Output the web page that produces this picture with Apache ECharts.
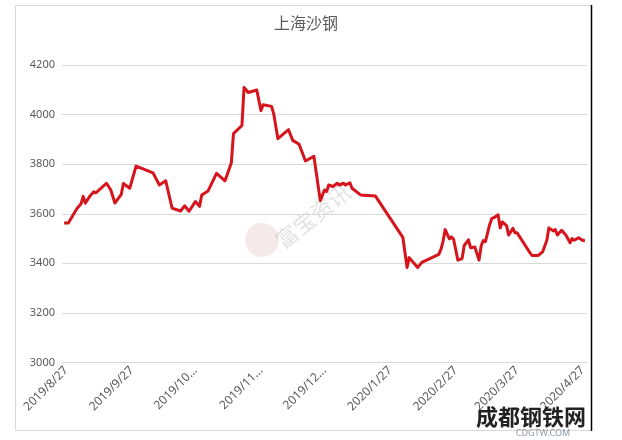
<!DOCTYPE html>
<html>
<head>
<meta charset="utf-8">
<script src="https://cdn.jsdelivr.net/npm/echarts@6/dist/echarts.min.js"></script>
<style>html,body{margin:0;padding:0;background:#fff;}#c{width:622px;height:440px;}</style>
</head>
<body>
<div id="c"></div>
<script>
const titleText = '上海沙钢';
const dates = [
'2019-08-26','2019-08-28','2019-09-01','2019-09-03','2019-09-04','2019-09-05','2019-09-07','2019-09-09','2019-09-10','2019-09-15',
'2019-09-17','2019-09-19','2019-09-22','2019-09-23','2019-09-26','2019-09-29','2019-10-07','2019-10-10','2019-10-13','2019-10-16',
'2019-10-20','2019-10-22','2019-10-24','2019-10-27','2019-10-29','2019-10-30','2019-11-02','2019-11-06','2019-11-10','2019-11-13',
'2019-11-14','2019-11-18','2019-11-19','2019-11-21','2019-11-25','2019-11-27','2019-11-28','2019-12-02','2019-12-03','2019-12-05',
'2019-12-10','2019-12-12','2019-12-15','2019-12-18','2019-12-22','2019-12-25','2019-12-27','2019-12-28','2019-12-29','2019-12-31',
'2020-01-02','2020-01-03','2020-01-05','2020-01-06','2020-01-08','2020-01-09','2020-01-13','2020-01-20','2020-02-02','2020-02-04',
'2020-02-05','2020-02-09','2020-02-11','2020-02-19','2020-02-20','2020-02-21','2020-02-22','2020-02-24','2020-02-25','2020-02-26',
'2020-02-28','2020-03-01','2020-03-02','2020-03-04','2020-03-05','2020-03-07','2020-03-09','2020-03-10','2020-03-11','2020-03-12',
'2020-03-14','2020-03-15','2020-03-16','2020-03-18','2020-03-19','2020-03-20','2020-03-22','2020-03-23','2020-03-25','2020-03-26',
'2020-03-27','2020-03-30','2020-04-02','2020-04-03','2020-04-06','2020-04-08','2020-04-10','2020-04-11','2020-04-13','2020-04-14',
'2020-04-15','2020-04-17','2020-04-19','2020-04-21','2020-04-22','2020-04-23','2020-04-25','2020-04-27','2020-04-28'
];
const prices = [
3563,3563,3620,3640,3670,3643,3669,3689,3684,3723,
3697,3643,3678,3722,3703,3792,3765,3716,3733,3623,
3611,3632,3610,3649,3630,3676,3692,3763,3733,3806,
3923,3956,4109,4089,4099,4016,4040,4033,4003,3903,
3939,3896,3880,3813,3832,3653,3696,3690,3716,3710,
3723,3716,3723,3716,3725,3703,3676,3672,3505,3383,
3423,3383,3404,3436,3456,3489,3536,3499,3507,3496,
3413,3419,3472,3495,3463,3466,3413,3470,3492,3487,
3556,3580,3584,3596,3543,3567,3552,3514,3541,3523,
3523,3483,3443,3432,3432,3446,3492,3543,3531,3536,
3514,3533,3514,3483,3500,3493,3503,3492,3493
];
const tickDates = ['2019-08-27','2019-09-27','2019-10-27','2019-11-27','2019-12-27','2020-01-27','2020-02-27','2020-03-27','2020-04-27'];
const tickLabels = ['2019/8/27','2019/9/27','2019/10...','2019/11...','2019/12...','2020/1/27','2020/2/27','2020/3/27','2020/4/27'];
const yTicks = [3000,3200,3400,3600,3800,4000,4200];

function ts(s){const p=s.split('-').map(Number);return Date.UTC(p[0],p[1]-1,p[2]);}
const tickTimes = tickDates.map(ts);
const seriesData = dates.map((d,i)=>[ts(d),prices[i]]);

const chart = echarts.init(document.getElementById('c'), null, {renderer:'canvas'});
chart.setOption({
  animation:false,
  backgroundColor:'#fff',
  title:{text:titleText,left:301,top:10,textAlign:'center',
    textStyle:{fontFamily:'Noto Sans CJK SC',fontSize:16,fontWeight:'normal',color:'#595959'}},
  grid:{left:62,right:35,top:65,bottom:77.5,containLabel:false},
  xAxis:{type:'value',min:ts('2019-08-25'),max:ts('2020-04-29'),scale:true,
    splitLine:{show:false},
    axisLine:{show:true,lineStyle:{color:'#d9d9d9'}},
    axisTick:{show:false,customValues:tickTimes},
    axisLabel:{customValues:tickTimes,rotate:45,margin:6,fontSize:12,color:'#595959',fontFamily:'Noto Sans',
      hideOverlap:false,showMinLabel:true,showMaxLabel:true,
      formatter:function(v){const i=tickTimes.indexOf(v);return i>=0?tickLabels[i]:'';}}
  },
  yAxis:{type:'value',min:yTicks[0],max:yTicks[yTicks.length-1],interval:200,
    axisLine:{show:false},axisTick:{show:false},
    splitLine:{lineStyle:{color:'#d9d9d9',width:1}},
    axisLabel:{fontSize:11,color:'#595959',margin:7,fontFamily:'Noto Sans',
      formatter:function(v){return String(v);}}},
  series:[{type:'line',data:seriesData,showSymbol:false,symbol:'none',
    lineStyle:{color:'#d6141c',width:3,join:'round'},z:3}],
  graphic:[
    {type:'rect',shape:{x:15.5,y:5.5,width:576,height:425},style:{fill:'none',stroke:'#d9d9d9',lineWidth:1},z:-1,silent:true},
    {type:'line',shape:{x1:591.5,y1:5,x2:591.5,y2:431},style:{stroke:'#000',lineWidth:1.5},silent:true},
    {type:'circle',shape:{cx:262,cy:240,r:17},style:{fill:'rgba(205,160,160,0.22)'},silent:true,z:0},
    {type:'text',x:313,y:216,rotation:Math.PI*38/180,style:{text:'富宝资讯',fontSize:22,fontFamily:'Noto Sans CJK SC',fill:'rgba(170,170,170,0.35)',align:'center',verticalAlign:'middle'},silent:true,z:0},
    {type:'text',x:531,y:417,style:{text:'成都钢铁网',fontSize:22,fontWeight:'bold',fontFamily:'Noto Sans CJK SC',fill:'#222',align:'center',verticalAlign:'middle'},silent:true,z:10},
    {type:'text',x:543,y:433,style:{text:'CDGTW.COM',fontSize:9,fontFamily:'Noto Sans',fill:'#8a9aa8',align:'center',verticalAlign:'middle'},silent:true,z:10}
  ]
});
</script>
</body>
</html>
